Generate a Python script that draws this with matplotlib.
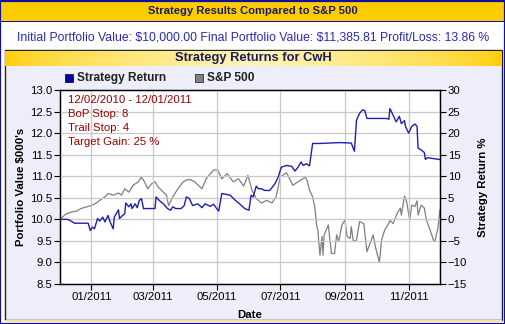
import numpy as np
import pandas as pd
import matplotlib
matplotlib.use("Agg")
import matplotlib.pyplot as plt
import matplotlib.dates as mdates
from matplotlib.patches import Rectangle

plt.rcParams['font.family'] = ['Liberation Sans', 'DejaVu Sans']

W, H = 506, 324

start = pd.Timestamp("2010-12-02")
end = pd.Timestamp("2011-12-01")

# strategy portfolio value ($000's), days since start
strat_days = [0, 7, 9, 14, 27, 29, 31, 33, 36, 38, 41, 43, 46, 48, 51, 52, 56, 57, 60, 62,
              63, 66, 68, 69, 72, 74, 76, 78, 80, 91, 92, 95, 99, 103, 106, 108, 111, 116, 119, 121,
              124, 127, 132, 136, 139, 144, 147, 152, 155, 163, 168, 172, 177, 181, 183, 185, 188, 190, 193, 196,
              201, 206, 209, 212, 217, 222, 225, 228, 231, 233, 236, 239, 242, 249, 268, 279, 282, 284, 287, 290,
              292, 294, 313, 315, 316, 319, 322, 325, 327, 330, 331, 334, 337, 340, 342, 343, 346, 349, 350, 352, 364]
strat_value = [10.00, 10.00, 9.98, 9.91, 9.91, 9.74, 9.82, 9.78, 10.02, 9.96, 10.05, 9.94, 10.09, 9.94, 9.78, 10.05, 10.22, 10.02, 10.09, 10.13,
               10.38, 10.29, 10.36, 10.25, 10.36, 10.27, 10.44, 10.48, 10.25, 10.25, 10.52, 10.44, 10.36, 10.25, 10.21, 10.29, 10.25, 10.25, 10.32, 10.52,
               10.48, 10.32, 10.36, 10.27, 10.36, 10.30, 10.35, 10.19, 10.60, 10.56, 10.44, 10.36, 10.25, 10.21, 10.56, 10.52, 10.77, 10.71, 10.71, 10.67,
               10.67, 10.83, 10.98, 11.21, 11.25, 11.23, 11.12, 11.21, 11.33, 11.25, 11.29, 11.24, 11.76, 11.76, 11.78, 11.77, 11.58, 12.30, 12.46, 12.54,
               12.52, 12.34, 12.34, 12.32, 12.57, 12.42, 12.26, 12.39, 12.22, 12.29, 12.15, 12.00, 12.16, 12.21, 12.16, 11.65, 11.61, 11.55, 11.39, 11.43, 11.386]

# S&P 500 change (%), days since start
spx_days = [0, 6, 11, 16, 20, 27, 30, 35, 38, 43, 46, 51, 56, 59, 62, 66, 70, 75, 78, 81,
            84, 88, 91, 94, 99, 102, 104, 108, 113, 118, 122, 125, 129, 136, 140, 147, 151, 155, 160, 166,
            171, 176, 180, 184, 188, 193, 198, 203, 207, 211, 217, 223, 230, 235, 237, 239, 242, 244, 246, 247,
            249, 251, 252, 253, 257, 260, 263, 265, 267, 270, 273, 275, 278, 279, 281, 284, 287, 291, 294, 297,
            300, 302, 306, 308, 311, 315, 316, 319, 323, 326, 327, 330, 332, 335, 337, 340, 342, 343, 346, 349,
            351, 354, 358, 359, 362, 364]
spx_pct = [0.0, 1.3, 1.7, 1.9, 2.5, 3.0, 3.2, 3.8, 4.4, 5.2, 6.0, 5.6, 6.1, 5.6, 7.1, 6.3, 7.9, 8.7, 9.8, 8.7,
           7.1, 8.3, 8.7, 7.5, 6.3, 5.6, 3.2, 5.2, 7.1, 8.7, 9.2, 9.2, 8.7, 7.1, 9.4, 11.4, 11.5, 9.4, 10.6, 8.7,
           9.4, 7.7, 10.2, 6.7, 4.8, 3.8, 4.4, 3.8, 5.2, 9.8, 10.8, 7.9, 9.0, 9.8, 8.8, 6.8, 5.2, 2.9, -1.7, -2.5,
           -8.3, -4.0, -8.3, -3.6, -1.3, -7.9, -7.9, -3.6, -5.2, -1.3, -0.2, -4.0, -4.4, -1.7, -5.2, -4.8, -0.5, -1.0, -7.5, -5.6,
           -3.6, -6.3, -10.0, -4.8, -2.5, -0.9, -0.2, -1.0, 1.4, 2.6, 1.0, 5.4, 4.1, -0.2, 3.3, 3.0, 4.3, 1.0, 3.3, 2.6,
           -0.2, -2.1, -5.0, -5.2, -2.1, 2.2]

info_lines = ["12/02/2010 - 12/01/2011", "BoP Stop: 8", "Trail Stop: 4", "Target Gain: 25 %"]

strat_dates = start + pd.to_timedelta(strat_days, unit="D")
spx_dates = start + pd.to_timedelta(spx_days, unit="D")

NAVY = "#1c1c5c"
BLUE = "#1f1fb0"
GOLD = "#ffcc00"


def fx(x):
    return x / W


def fy(y):
    return 1 - y / H


fig = plt.figure(figsize=(W / 100, H / 100), dpi=100)
fig.patch.set_facecolor("white")

# top banner
fig.patches.append(Rectangle((0, fy(21)), 1, 21 / H, transform=fig.transFigure,
                             facecolor=GOLD, edgecolor="none", zorder=-3))
fig.patches.append(Rectangle((0, fy(22)), 1, 1.2 / H, transform=fig.transFigure,
                             facecolor="#1010a0", edgecolor="none", zorder=-2))
fig.text(0.5, fy(11.5), "Strategy Results Compared to S&P 500", ha="center", va="center",
         fontsize=8.1, fontweight="bold", color=NAVY)
fig.text(0.5, fy(37), "Initial Portfolio Value: \\$10,000.00 Final Portfolio Value: \\$11,385.81 Profit/Loss: 13.86 %",
         ha="center", va="center", fontsize=8.8, color="#2a2ab0")

# inner panel
fig.patches.append(Rectangle((fx(5), fy(320)), (502 - 5) / W, (320 - 50) / H, transform=fig.transFigure,
                             facecolor="#eeeefa", edgecolor="#222222", lw=1.0, zorder=-3))
fig.patches.append(Rectangle((fx(5), fy(321.5)), (502 - 5) / W, 1.5 / H, transform=fig.transFigure,
                             facecolor="#f5e39a", edgecolor="none", zorder=-3))

# gradient header of the panel
hax = fig.add_axes([fx(5.5), fy(66), (501.5 - 5.5) / W, 15.5 / H])
t = np.linspace(0, 1, 256)
g = 1 - np.abs(t - 0.5) * 2
g = g ** 0.6
c0 = np.array([1.0, 0.80, 0.0])
c1 = np.array([1.0, 0.96, 0.72])
grad = c0[None, :] * (1 - g[:, None]) + c1[None, :] * g[:, None]
hax.imshow(grad[None, :, :], aspect="auto", extent=[0, 1, 0, 1])
hax.set_axis_off()
hax.set_zorder(1)
fig.text(0.5, fy(58), "Strategy Returns for CwH", ha="center", va="center",
         fontsize=9.3, fontweight="bold", color=NAVY, zorder=6)

# outer border
fig.patches.append(Rectangle((0.5 / W, 0.5 / H), 1 - 1.5 / W, 1 - 1.5 / H, transform=fig.transFigure,
                             facecolor="none", edgecolor="#1010a0", lw=1.6, zorder=10))

# legend
fig.patches.append(Rectangle((fx(65), fy(82)), 8 / W, 8 / H, transform=fig.transFigure,
                             facecolor="#000099", edgecolor="#111133", lw=0.6))
fig.text(fx(77), fy(78), "Strategy Return", ha="left", va="center", fontsize=8.6,
         fontweight="bold", color="#222222")
fig.patches.append(Rectangle((fx(195), fy(82)), 8 / W, 8 / H, transform=fig.transFigure,
                             facecolor="#808080", edgecolor="#333333", lw=0.6))
fig.text(fx(207), fy(78), "S&P 500", ha="left", va="center", fontsize=8.6,
         fontweight="bold", color="#222222")

# main chart
ax = fig.add_axes([fx(60), fy(284), 380 / W, 194 / H])
ax2 = ax.twinx()

ax2.set_zorder(2)
ax.set_zorder(3)
ax.patch.set_visible(False)
ax2.patch.set_visible(True)
ax2.patch.set_facecolor("white")

ax2.plot(spx_dates, spx_pct, color="#7f7f7f", lw=0.9)
ax.plot(strat_dates, strat_value, color=BLUE, lw=1.0)

ax.set_xlim(start, end)
ax.set_ylim(8.5, 13.0)
ax.set_yticks(np.arange(8.5, 13.01, 0.5))
ax.yaxis.set_major_formatter(plt.FormatStrFormatter("%.1f"))
ax2.set_ylim(-15, 30)
ax2.set_yticks(np.arange(-15, 31, 5))
ax2.set_yticklabels([str(v).replace("-", "\u2212") for v in range(-15, 31, 5)])

ax.xaxis.set_major_locator(mdates.MonthLocator(bymonth=[1, 3, 5, 7, 9, 11]))
ax.xaxis.set_major_formatter(mdates.DateFormatter("%m/%Y"))

ax.grid(True, color="#c8c8c8", lw=0.9)
ax.set_axisbelow(True)

for a in (ax, ax2):
    for s in a.spines.values():
        s.set_color("black")
        s.set_linewidth(0.9)
    a.tick_params(direction="out", length=4, width=0.8, labelsize=8.2, colors="black", pad=1.5)

ax.set_xlabel("Date", fontsize=8.2, fontweight="bold", labelpad=6)
ax.set_ylabel("Portfolio Value \\$000's", fontsize=8.2, fontweight="bold", labelpad=3)
ax2.set_ylabel("Strategy Return %", fontsize=8.2, fontweight="bold", labelpad=8)

for i, line in enumerate(info_lines):
    ax.text(0.02, 0.95 - i * 0.072, line, transform=ax.transAxes, ha="left", va="center",
            fontsize=8.2, color="#9a0000")

fig.savefig("out.png", dpi=100)
